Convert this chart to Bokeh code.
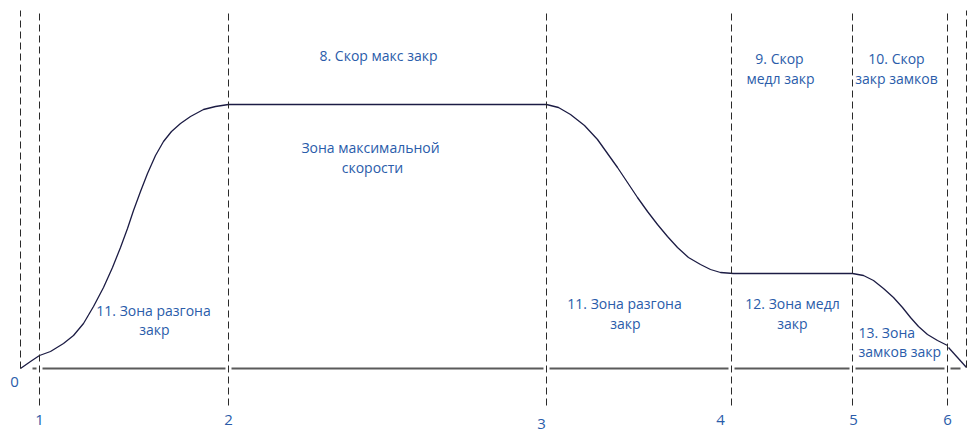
from bokeh.plotting import figure
from bokeh.models import Range1d
from bokeh.core.properties import value
from bokeh.embed import file_html
from bokeh.resources import INLINE

# ---- data (diagram units: x = time position, y = speed, 0 = baseline) ----
curve_x = [20, 30, 39, 50, 63, 73, 83, 93, 103, 112, 120, 127, 133, 140, 147, 155, 163, 171,
           180, 190, 203, 215, 228, 546, 558, 570, 584, 597, 607, 617, 627, 637, 647, 657,
           667, 677, 688, 700, 710, 720, 733, 852, 863, 873, 883, 893, 902, 910, 918, 927,
           937, 947]
curve_y = [0, 7, 13, 17, 25, 33, 45, 62, 81, 101, 121, 140, 158, 177, 195, 213, 227, 237,
           245, 252, 259, 262, 264, 264, 261, 254, 243, 229, 215, 201, 186, 171, 157, 144,
           132, 121, 111, 104, 99, 96, 95, 95, 93, 88, 80, 71, 61, 51, 42, 34, 28, 23]
tail_x = [948, 966]
tail_y = [21, 1]

mark_x = [20, 39, 228, 546, 731, 852, 947, 966]
mark_bottom = [0, -37, -37, -37, -37, -37, -37, 1]
mark_top = 358

num_labels = ["0", "1", "2", "3", "4", "5", "6"]
num_x = [14, 39, 228, 541, 720, 853, 947]
num_y = [-13, -51, -51, -55, -51, -51, -51]

axis_x = [32, 960]
axis_y = [0, 0]

zone_text = ["8. Скор макс закр",
             "Зона максимальной", "скорости",
             "9. Скор", "медл закр",
             "10. Скор", "закр замков",
             "11. Зона разгона", "закр",
             "11. Зона разгона", "закр",
             "12. Зона медл", "закр"]
zone_x = [378, 370, 372, 779, 780, 896, 896, 153, 154, 624, 625, 792, 792]
zone_y = [313, 221, 201, 310, 290, 310, 290, 58, 39, 65, 45, 65, 45]

left_text = ["13. Зона", "замков закр"]
left_x = [858, 858]
left_y = [36, 17]

TXT = "#2a5caa"
FONT = value("Open Sans")

p = figure(width=975, height=433, output_backend="svg", toolbar_location=None,
           x_range=Range1d(0, 975), y_range=Range1d(-65, 368), min_border=0)
p.axis.visible = False
p.grid.visible = False
p.outline_line_color = None
p.background_fill_color = "white"
p.border_fill_color = "white"

# baseline
p.line(axis_x, axis_y, line_color="#5a5a5a", line_width=2)

# white halos round the dashed markers
p.segment(x0=mark_x, x1=mark_x, y0=mark_bottom, y1=[mark_top] * len(mark_x),
          line_color="white", line_width=6)

# speed curve
p.line(curve_x, curve_y, line_color="#1c1c44", line_width=1.3, line_join="round")
p.line(tail_x, tail_y, line_color="#1c1c44", line_width=1.3)

# dashed markers
p.segment(x0=mark_x, x1=mark_x, y0=mark_bottom, y1=[mark_top] * len(mark_x),
          line_color="#2a2a2a", line_width=1, line_dash="7 4")

# numbers
p.text(x=num_x, y=num_y, text=num_labels, text_color=TXT, text_font=FONT,
       text_font_size="15px", text_align="center", text_baseline="middle")

# zone labels
p.text(x=zone_x, y=zone_y, text=zone_text, text_color=TXT, text_font=FONT,
       text_font_size="14px", text_align="center", text_baseline="middle")
p.text(x=left_x, y=left_y, text=left_text, text_color=TXT, text_font=FONT,
       text_font_size="14px", text_align="left", text_baseline="middle")

open("out.html", "w").write(file_html(p, INLINE))
